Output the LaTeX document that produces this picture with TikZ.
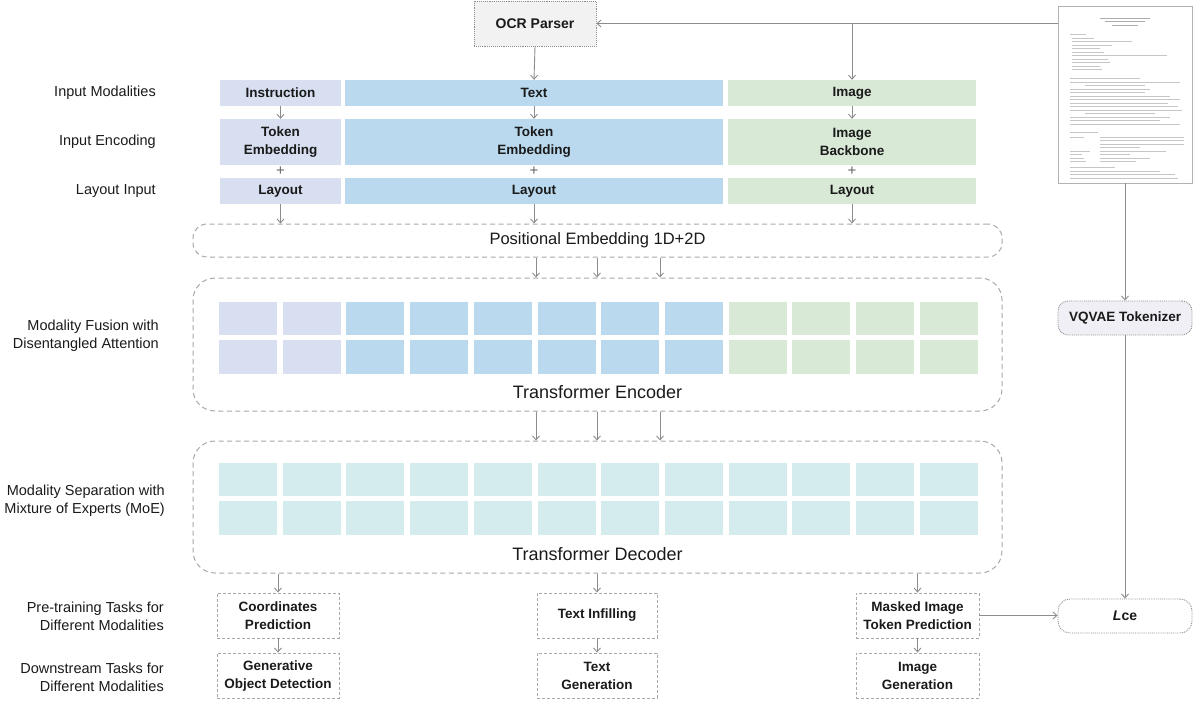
\documentclass[tikz,border=0pt]{standalone}
\usepackage{fontspec}
\setmainfont{Liberation Sans}
\usetikzlibrary{arrows.meta}
\usetikzlibrary{calc}
\usetikzlibrary{positioning}

\definecolor{instcol}{HTML}{D7DFF1}
\definecolor{textcol}{HTML}{BAD9EE}
\definecolor{imgcol}{HTML}{D8E9D6}
\definecolor{deccol}{HTML}{D5ECEE}
\definecolor{ocrcol}{HTML}{F2F2F2}
\definecolor{vqcol}{HTML}{EFEFF5}
\definecolor{linecol}{HTML}{8C8C8C}
\definecolor{dashcol}{HTML}{A8A8A8}
\definecolor{inkcol}{HTML}{1A1A1A}

\tikzset{
  modbox/.style={inner sep=0pt, minimum height=26pt, text=inkcol,
    font=\fontsize{13.5}{18}\selectfont\bfseries},
  encbox/.style={modbox, minimum height=46pt, align=center},
  sidelabel/.style={anchor=east, align=right, inner sep=0pt, text=inkcol,
    font=\fontsize{14.5}{18}\selectfont},
  blockbox/.style={draw=dashcol, dash pattern=on 5pt off 3.5pt, line width=1pt,
    inner sep=0pt, minimum width=809pt, text=inkcol},
  taskbox/.style={draw=dashcol, dash pattern=on 3pt off 2pt, line width=0.9pt,
    minimum height=45pt, align=center, inner sep=0pt, text=inkcol,
    font=\fontsize{13.5}{18}\selectfont\bfseries},
  dotbox/.style={draw=linecol, densely dotted, line width=0.9pt, inner sep=0pt,
    text=inkcol, font=\fontsize{13.5}{16}\selectfont\bfseries},
  conn/.style={draw=linecol, line width=0.9pt, ->},
  pagetext/.style={draw=gray!45, line width=0.8pt}
}

\begin{document}
\begin{tikzpicture}[x=1pt, y=-1pt, >={Straight Barb[length=4pt,width=7pt]}]
\useasboundingbox (0,0) rectangle (1198,705);

%%%%%%%%%%%% side labels
\node[sidelabel] (lblmod) at (156,93) {Input Modalities};
\node[sidelabel] (lblenc) at (156,142) {Input Encoding};
\node[sidelabel] (lbllay) at (156,191) {Layout Input};
\node[sidelabel] (lblfus) at (159,336) {Modality Fusion with\\Disentangled Attention};
\node[sidelabel] (lblsep) at (165,501) {Modality Separation with\\Mixture of Experts (MoE)};
\node[sidelabel] (lblpre) at (164,616) {Pre-training Tasks for\\Different Modalities};
\node[sidelabel] (lbldown) at (164,677) {Downstream Tasks for\\Different Modalities};

%%%%%%%%%%%% OCR parser and document page
\node[dotbox, fill=ocrcol, minimum width=122pt, minimum height=45pt,
  font=\fontsize{14}{16}\selectfont\bfseries] (ocr) at (535,23.5) {OCR Parser};

\node[draw=gray!60, fill=white, line width=0.8pt, minimum width=134pt,
  minimum height=177pt, inner sep=0pt] (doc) at (1125,94.5) {};
\foreach \y/\a/\l in {18/1100/50, 21.5/1105/40, 25/1112/26}
  \draw[pagetext, draw=gray!65, line width=1pt] (\a,\y) -- ++(\l,0);
\foreach \y/\a/\l in {34/1070/16, 38/1072/22, 41.5/1072/60, 45/1072/40,
    48.5/1072/28, 52/1072/32, 55.5/1072/95, 59/1072/36, 62.5/1072/38,
    66/1072/28, 69.5/1072/30, 78/1070/70, 82/1070/110, 85.5/1085/60,
    89/1070/80, 92.5/1070/75, 96/1070/100, 99.5/1070/110, 103/1070/98,
    106.5/1070/108, 110/1070/112, 113.5/1085/70, 117/1070/100,
    120.5/1070/90, 124/1070/110, 132/1070/28, 137/1070/14, 137/1100/84,
    140.5/1100/84, 144/1100/84, 147.5/1100/40, 151/1070/20, 151/1100/66,
    154.5/1070/12, 154.5/1100/30, 158/1070/14, 158/1100/50,
    161.5/1070/16, 161.5/1100/36, 167/1070/45, 171/1070/90,
    174.5/1070/105, 178/1070/108}
  \draw[pagetext] (\a,\y) -- ++(\l,0);

%%%%%%%%%%%% input rows
\node[modbox, fill=instcol, minimum width=121pt] (instin) at (280.5,93) {Instruction};
\node[modbox, fill=textcol, minimum width=378pt] (textin) at (534,93) {Text};
\node[modbox, fill=imgcol, minimum width=248pt] (imgin) at (852,93) {Image};

\node[encbox, fill=instcol, minimum width=121pt] (instemb) at (280.5,142) {Token\\Embedding};
\node[encbox, fill=textcol, minimum width=378pt] (textemb) at (534,142) {Token\\Embedding};
\node[encbox, fill=imgcol, minimum width=248pt] (imgemb) at (852,142) {Image\\Backbone};

\node[text=black!60, font=\fontsize{15}{15}\selectfont] (instplus) at (280.5,171) {+};
\node[text=black!60, font=\fontsize{15}{15}\selectfont] (textplus) at (534,171) {+};
\node[text=black!60, font=\fontsize{15}{15}\selectfont] (imgplus) at (852,171) {+};

\node[modbox, fill=instcol, minimum width=121pt] (instlay) at (280.5,191) {Layout};
\node[modbox, fill=textcol, minimum width=378pt] (textlay) at (534,191) {Layout};
\node[modbox, fill=imgcol, minimum width=248pt] (imglay) at (852,191) {Layout};

\draw[conn] (ocr.south) -- (textin.north);
\draw[conn] (ocr.east -| doc.west) -- (ocr.east);
\draw[conn] (imgin.north |- ocr.east) -- (imgin.north);
\draw[conn] (instin.south) -- (instemb.north);
\draw[conn] (textin.south) -- (textemb.north);
\draw[conn] (imgin.south) -- (imgemb.north);

%%%%%%%%%%%% positional embedding
\node[blockbox, rounded corners=14pt, minimum height=33pt,
  font=\fontsize{16.5}{18}\selectfont] (posemb) at (597.5,240.5) {Positional Embedding 1D+2D};
\draw[conn] (instlay.south) -- (instlay.south |- posemb.north);
\draw[conn] (textlay.south) -- (textlay.south |- posemb.north);
\draw[conn] (imglay.south) -- (imglay.south |- posemb.north);

%%%%%%%%%%%% encoder
\node[blockbox, rounded corners=22pt, minimum height=133pt] (encoder) at (597.5,344.5) {};
\foreach \i/\c in {0/instcol,1/instcol,2/textcol,3/textcol,4/textcol,5/textcol,
    6/textcol,7/textcol,8/imgcol,9/imgcol,10/imgcol,11/imgcol} {
  \fill[\c] ({219+63.7*\i},302) rectangle ++(58,33);
  \fill[\c] ({219+63.7*\i},340) rectangle ++(58,34);
}
\node[text=inkcol, font=\fontsize{18}{20}\selectfont] (enclabel) at (597.5,392) {Transformer Encoder};
\foreach \dx in {-61.5,-0.5,62.5}
  \draw[conn] ([xshift=\dx pt]posemb.south) -- ([xshift=\dx pt]encoder.north);

%%%%%%%%%%%% decoder
\node[blockbox, rounded corners=22pt, minimum height=132pt] (decoder) at (597.5,507) {};
\foreach \i in {0,1,...,11} {
  \fill[deccol] ({219+63.7*\i},463) rectangle ++(58,33);
  \fill[deccol] ({219+63.7*\i},501) rectangle ++(58,34);
}
\node[text=inkcol, font=\fontsize{18}{20}\selectfont] (declabel) at (597.5,554) {Transformer Decoder};
\foreach \dx in {-61.5,-0.5,62.5}
  \draw[conn] ([xshift=\dx pt]encoder.south) -- ([xshift=\dx pt]decoder.north);

%%%%%%%%%%%% tasks
\node[taskbox, minimum width=122pt] (coordtask) at (278,615.5) {Coordinates\\Prediction};
\node[taskbox, minimum width=120pt] (infilltask) at (597,615.5) {Text Infilling};
\node[taskbox, minimum width=123pt] (masktask) at (917.5,615.5) {Masked Image\\Token Prediction};

\node[taskbox, minimum width=122pt] (detdown) at (278,675.5) {Generative\\Object Detection};
\node[taskbox, minimum width=120pt] (textdown) at (597,675.5) {Text\\Generation};
\node[taskbox, minimum width=123pt] (imgdown) at (917.5,675.5) {Image\\Generation};

\draw[conn] (coordtask.north |- decoder.south) -- (coordtask.north);
\draw[conn] (infilltask.north |- decoder.south) -- (infilltask.north);
\draw[conn] (masktask.north |- decoder.south) -- (masktask.north);
\draw[conn] (coordtask.south) -- (detdown.north);
\draw[conn] (infilltask.south) -- (textdown.north);
\draw[conn] (masktask.south) -- (imgdown.north);

%%%%%%%%%%%% tokenizer and loss
\node[dotbox, fill=vqcol, rounded corners=10pt, minimum width=134pt,
  minimum height=34pt] (vqvae) at (1125,318) {VQVAE Tokenizer};
\node[dotbox, fill=white, rounded corners=12pt, minimum width=134pt,
  minimum height=34pt, font=\fontsize{14}{16}\selectfont\bfseries] (lce) at (1125,616) {\textit{L}ce};

\draw[conn] (doc.south) -- (vqvae.north);
\draw[conn] (vqvae.south) -- (lce.north);
\draw[conn] (masktask.east) -- (masktask.east -| lce.west);
\end{tikzpicture}
\end{document}
